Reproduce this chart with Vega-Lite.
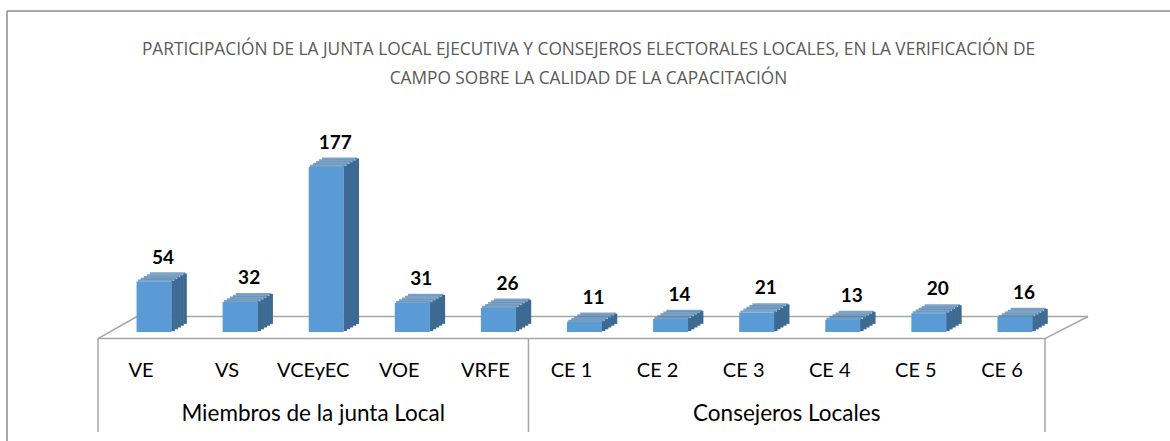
{
  "$schema": "https://vega.github.io/schema/vega-lite/v6.json",
  "width": 1163,
  "height": 430,
  "padding": {"left": 7, "top": 11, "right": 0, "bottom": 0},
  "autosize": {"type": "none"},
  "background": "white",
  "config": {"view": {"stroke": null}, "font": "Lato"},
  "title": {
    "text": ["PARTICIPACIÓN DE LA JUNTA LOCAL EJECUTIVA Y CONSEJEROS ELECTORALES LOCALES, EN LA VERIFICACIÓN DE", "CAMPO SOBRE LA CALIDAD DE LA CAPACITACIÓN"],
    "anchor": "middle",
    "frame": "group",
    "offset": -77,
    "font": "Open Sans",
    "fontSize": 17.3,
    "fontWeight": "normal",
    "color": "#595959",
    "lineHeight": 29
  },
  "data": {
    "values": [
      {"cat": "VE", "grupo": "Miembros de la junta Local", "valor": 54},
      {"cat": "VS", "grupo": "Miembros de la junta Local", "valor": 32},
      {"cat": "VCEyEC", "grupo": "Miembros de la junta Local", "valor": 177},
      {"cat": "VOE", "grupo": "Miembros de la junta Local", "valor": 31},
      {"cat": "VRFE", "grupo": "Miembros de la junta Local", "valor": 26},
      {"cat": "CE 1", "grupo": "Consejeros Locales", "valor": 11},
      {"cat": "CE 2", "grupo": "Consejeros Locales", "valor": 14},
      {"cat": "CE 3", "grupo": "Consejeros Locales", "valor": 21},
      {"cat": "CE 4", "grupo": "Consejeros Locales", "valor": 13},
      {"cat": "CE 5", "grupo": "Consejeros Locales", "valor": 20},
      {"cat": "CE 6", "grupo": "Consejeros Locales", "valor": 16}
    ]
  },
  "resolve": {"scale": {"x": "independent"}},
  "layer": [
    {
      "data": {"values": [{}]},
      "layer": [
        {"mark": {"type": "rule", "color": "#8c8c8c", "strokeWidth": 1.5},
         "encoding": {"x": {"datum": -1.057, "type": "quantitative", "scale": {"domain": [-1.057, 12.452], "nice": false, "zero": false}, "axis": null},
                      "y": {"datum": -116.7, "type": "quantitative", "scale": {"domain": [-116.7, 343.7], "nice": false, "zero": false}, "axis": null},
                      "y2": {"datum": 343.7}}},
        {"mark": {"type": "rule", "color": "#8c8c8c", "strokeWidth": 1.5},
         "encoding": {"x": {"datum": -1.057, "type": "quantitative"}, "x2": {"datum": 12.452}, "y": {"datum": 343.7, "type": "quantitative"}}},
        {"mark": {"type": "rule", "color": "#a6a6a6", "strokeWidth": 1.5},
         "encoding": {"x": {"datum": 0, "type": "quantitative"}, "x2": {"datum": 11}, "y": {"datum": -7, "type": "quantitative"}}},
        {"mark": {"type": "rule", "color": "#a6a6a6", "strokeWidth": 1.5},
         "encoding": {"x": {"datum": 0.453, "type": "quantitative"}, "x2": {"datum": 11.5}, "y": {"datum": 16.6, "type": "quantitative"}}},
        {"mark": {"type": "rule", "color": "#a6a6a6", "strokeWidth": 1.5},
         "encoding": {"x": {"datum": 0, "type": "quantitative"}, "x2": {"datum": 0.453}, "y": {"datum": -7, "type": "quantitative"}, "y2": {"datum": 16.6}}},
        {"mark": {"type": "rule", "color": "#a6a6a6", "strokeWidth": 1.5},
         "encoding": {"x": {"datum": 11, "type": "quantitative"}, "x2": {"datum": 11.5}, "y": {"datum": -7, "type": "quantitative"}, "y2": {"datum": 16.6}}},
        {"mark": {"type": "rule", "color": "#a6a6a6", "strokeWidth": 1.5},
         "encoding": {"x": {"datum": 0, "type": "quantitative"}, "y": {"datum": -7, "type": "quantitative"}, "y2": {"datum": -107.1}}},
        {"mark": {"type": "rule", "color": "#a6a6a6", "strokeWidth": 1.5},
         "encoding": {"x": {"datum": 5, "type": "quantitative"}, "y": {"datum": -7, "type": "quantitative"}, "y2": {"datum": -107.1}}},
        {"mark": {"type": "rule", "color": "#a6a6a6", "strokeWidth": 1.5},
         "encoding": {"x": {"datum": 11, "type": "quantitative"}, "y": {"datum": -7, "type": "quantitative"}, "y2": {"datum": -107.1}}},
        {"mark": {"type": "text", "text": "Miembros de la junta Local", "fontSize": 22.5, "color": "#000000", "baseline": "middle", "align": "center"},
         "encoding": {"x": {"datum": 2.5, "type": "quantitative"}, "y": {"datum": -87.8, "type": "quantitative"}}},
        {"mark": {"type": "text", "text": "Consejeros Locales", "fontSize": 22.5, "color": "#000000", "baseline": "middle", "align": "center"},
         "encoding": {"x": {"datum": 8, "type": "quantitative"}, "y": {"datum": -87.8, "type": "quantitative"}}}
      ]
    },
    {
      "encoding": {
        "x": {"field": "cat", "type": "nominal", "axis": null,
              "scale": {"domain": ["VE", "VS", "VCEyEC", "VOE", "VRFE", "CE 1", "CE 2", "CE 3", "CE 4", "CE 5", "CE 6"], "paddingInner": 0, "paddingOuter": 0, "range": [91, 1038]}},
        "y": {"field": "valor", "type": "quantitative"}
      },
      "layer": [
        {"mark": {"type": "bar", "color": "#3d6a93", "width": 3.6, "xOffset": 44, "yOffset": -8.1}},
        {"mark": {"type": "bar", "color": "#3d6a93", "width": 3.6, "xOffset": 41, "yOffset": -6.3}},
        {"mark": {"type": "bar", "color": "#3d6a93", "width": 3.6, "xOffset": 38, "yOffset": -4.5}},
        {"mark": {"type": "bar", "color": "#3d6a93", "width": 3.6, "xOffset": 35, "yOffset": -2.7}},
        {"mark": {"type": "bar", "color": "#3d6a93", "width": 3.6, "xOffset": 32, "yOffset": -0.9}},
        {"mark": {"type": "tick", "color": "#477cad", "size": 35.5, "thickness": 2.2, "xOffset": 26.5, "yOffset": -8.1}},
        {"mark": {"type": "tick", "color": "#477cad", "size": 35.5, "thickness": 2.2, "xOffset": 23.5, "yOffset": -6.3}},
        {"mark": {"type": "tick", "color": "#477cad", "size": 35.5, "thickness": 2.2, "xOffset": 20.5, "yOffset": -4.5}},
        {"mark": {"type": "tick", "color": "#477cad", "size": 35.5, "thickness": 2.2, "xOffset": 17.5, "yOffset": -2.7}},
        {"mark": {"type": "tick", "color": "#477cad", "size": 35.5, "thickness": 2.2, "xOffset": 14.5, "yOffset": -0.9}},
        {"mark": {"type": "bar", "color": "#5b9bd5", "width": 35, "xOffset": 13}},
        {"mark": {"type": "text", "fontSize": 19, "fontWeight": "bold", "color": "#000000", "dx": 22, "dy": -18, "baseline": "alphabetic", "align": "center"},
         "encoding": {"text": {"field": "valor", "type": "quantitative"}}},
        {"mark": {"type": "text", "fontSize": 20, "color": "#000000", "baseline": "middle", "align": "center"},
         "encoding": {"text": {"field": "cat"}, "y": {"datum": -41.8, "type": "quantitative"}}}
      ]
    }
  ]
}
